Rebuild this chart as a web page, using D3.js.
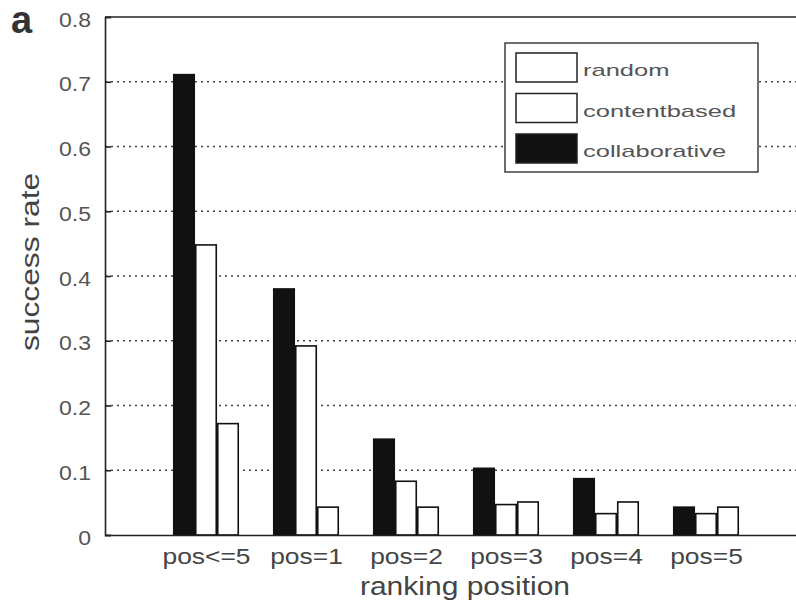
<!DOCTYPE html>
<html><head><meta charset="utf-8">
<script src="https://cdn.jsdelivr.net/npm/d3@7"></script>
<style>body{margin:0;background:#fff}svg text{font-family:"Liberation Sans",Arial,sans-serif}</style>
</head><body><svg id="c" width="796" height="603"></svg>
<script>
const categories = ["pos<=5","pos=1","pos=2","pos=3","pos=4","pos=5"];
const collaborative = [0.711,0.380,0.148,0.103,0.087,0.043];
const contentbased = [0.448,0.292,0.083,0.047,0.033,0.033];
const random = [0.172,0.043,0.043,0.051,0.051,0.043];
const yTicks = [0,0.1,0.2,0.3,0.4,0.5,0.6,0.7,0.8];
const legendLabels = ["random","contentbased","collaborative"];

(function(){
const svg = d3.select("#c");
const mLeft = 105, mBottom = 535, mTop = 17;
const x = d3.scaleLinear().domain([0,7]).range([106, 806]);
const y = d3.scaleLinear().domain([0,0.8]).range([mBottom, mTop]);

function stretch(sel, f){
  sel.each(function(){
    const L = this.getComputedTextLength();
    d3.select(this).attr("textLength", L*f).attr("lengthAdjust","spacingAndGlyphs");
  });
}

// grid
svg.append("g").selectAll("line").data(yTicks.filter(t=>t>0&&t<0.8)).join("line")
  .attr("x1", mLeft).attr("x2", 796).attr("y1", d=>y(d)).attr("y2", d=>y(d))
  .attr("stroke","#444").attr("stroke-width",1.3).attr("stroke-dasharray","2,4");

// bars
const series = [
  {vals: collaborative, fill:"#111"},
  {vals: contentbased, fill:"#fff"},
  {vals: random, fill:"#fff"}
];
const bw = 0.205;
series.forEach((s,si)=>{
  svg.append("g").selectAll("rect").data(s.vals).join("rect")
    .attr("x",(d,i)=>x(i+1+(si-1)*0.22 - bw/2))
    .attr("width", x(bw)-x(0))
    .attr("y", d=>y(d)).attr("height", d=>y(0)-y(d))
    .attr("fill", s.fill).attr("stroke","#111").attr("stroke-width",1.6);
});

// axes
const yAxis = d3.axisLeft(y).tickValues(yTicks).tickFormat(d=>d===0?"0":d3.format(".1f")(d)).tickSize(-6).tickPadding(14);
const gy = svg.append("g").attr("transform",`translate(${mLeft},0)`).call(yAxis);
gy.select(".domain").attr("stroke","#222").attr("stroke-width",1.6);
gy.selectAll(".tick line").attr("stroke","#222").attr("stroke-width",1.6);
gy.selectAll("text").attr("font-size",20).attr("fill","#555").attr("dy","0.45em");
stretch(gy.selectAll("text"), 1.15);

const xAxis = d3.axisBottom(x).tickValues([1,2,3,4,5,6]).tickFormat(d=>categories[d-1]).tickSize(0).tickPadding(13);
const gx = svg.append("g").attr("transform",`translate(0,${mBottom})`).call(xAxis);
gx.select(".domain").attr("stroke","#222").attr("stroke-width",1.6).attr("d",`M${mLeft},0.5H796`);
gx.selectAll("text").attr("font-size",22).attr("fill","#444");
stretch(gx.selectAll("text"), 1.2);

// top border
svg.append("line").attr("x1",mLeft).attr("x2",796).attr("y1",mTop).attr("y2",mTop).attr("stroke","#222").attr("stroke-width",1.6);

// labels
const xl = svg.append("text").attr("x",465).attr("y",595).attr("text-anchor","middle").attr("font-size",25).attr("fill","#444").text("ranking position");
stretch(xl, 1.2);
const yl = svg.append("text").attr("transform","translate(39,262) rotate(-90)").attr("text-anchor","middle").attr("font-size",25).attr("fill","#444").text("success rate");
stretch(yl, 1.27);
svg.append("text").attr("x",11).attr("y",33).attr("font-size",38).attr("font-weight","bold").attr("fill","#333").text("a");

// legend
const lg = svg.append("g");
lg.append("rect").attr("x",505).attr("y",43).attr("width",253).attr("height",129).attr("fill","#fff").attr("stroke","#222").attr("stroke-width",1.3);
const lfill = ["#fff","#fff","#111"];
legendLabels.forEach((t,i)=>{
  const yy = 53 + i*40.5;
  lg.append("rect").attr("x",516).attr("y",yy).attr("width",61).attr("height",29).attr("fill",lfill[i]).attr("stroke","#222").attr("stroke-width",1.5);
  const tx = lg.append("text").attr("x",583).attr("y",yy+23).attr("font-size",17).attr("fill","#555").text(t);
  stretch(tx, 1.5);
});
})();
</script></body></html>
